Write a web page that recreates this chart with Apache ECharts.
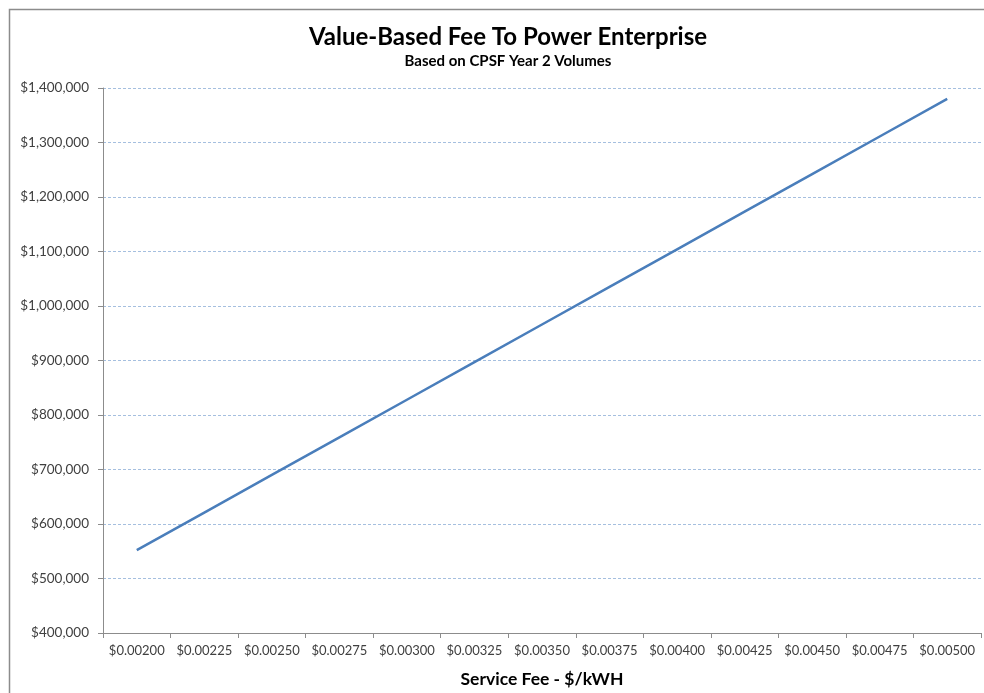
<!DOCTYPE html>
<html>
<head>
<meta charset="utf-8">
<script src="https://cdn.jsdelivr.net/npm/echarts@6/dist/echarts.min.js"></script>
<style>
html,body{margin:0;padding:0;background:#fff;overflow:hidden;}
#c{width:984px;height:693px;}
</style>
</head>
<body>
<div id="c"></div>
<script>
var categories = ['$0.00200','$0.00225','$0.00250','$0.00275','$0.00300','$0.00325','$0.00350','$0.00375','$0.00400','$0.00425','$0.00450','$0.00475','$0.00500'];
var feeValues = [552000, 621000, 690000, 759000, 828000, 897000, 966000, 1035000, 1104000, 1173000, 1242000, 1311000, 1380000];
var yTicks = {min: 400000, max: 1400000, interval: 100000};

var chart = echarts.init(document.getElementById('c'), null, {renderer: 'canvas', width: 984, height: 693});
var fontFam = 'Lato, "Open Sans", "Liberation Sans", sans-serif';
chart.setOption({
  animation: false,
  backgroundColor: '#fff',
  graphic: [{
    type: 'rect', left: 7, top: 7,
    shape: {x: 0, y: 0, width: 1000, height: 720},
    style: {fill: 'none', stroke: '#8c8c8c', lineWidth: 1.5},
    silent: true
  }],
  title: {
    text: 'Value-Based Fee To Power Enterprise',
    subtext: 'Based on CPSF Year 2 Volumes',
    left: 503, textAlign: 'center', top: 20, itemGap: 5,
    textStyle: {fontFamily: fontFam, fontWeight: 'bold', fontSize: 24, color: '#000'},
    subtextStyle: {fontFamily: fontFam, fontWeight: 'bold', fontSize: 15, color: '#000'}
  },
  grid: {left: 103, right: 3, top: 88, height: 554, containLabel: false},
  xAxis: {
    type: 'category',
    data: categories,
    boundaryGap: true,
    name: 'Service Fee - $/kWH',
    nameLocation: 'middle',
    nameGap: 37,
    nameTextStyle: {fontFamily: fontFam, fontWeight: 'bold', fontSize: 17.5, color: '#000'},
    axisLine: {lineStyle: {color: '#8c8c8c', width: 1}},
    axisTick: {show: true, alignWithLabel: false, length: 5, lineStyle: {color: '#8c8c8c'}},
    axisLabel: {interval: 0, fontFamily: fontFam, fontSize: 13, color: '#404040', margin: 11},
    splitLine: {show: false}
  },
  yAxis: {
    type: 'value',
    min: yTicks.min, max: yTicks.max, interval: yTicks.interval,
    axisLine: {show: true, lineStyle: {color: '#8c8c8c', width: 1}},
    axisTick: {show: true, length: 5, lineStyle: {color: '#8c8c8c'}},
    axisLabel: {
      fontFamily: fontFam, fontSize: 13.5, color: '#404040', margin: 14,
      formatter: function (v) { return '$' + v.toLocaleString('en-US'); }
    },
    splitLine: {show: true, lineStyle: {color: '#a5bfdf', type: [3, 2], width: 1}}
  },
  series: [{
    type: 'line',
    data: feeValues,
    showSymbol: false,
    symbol: 'none',
    lineStyle: {color: '#4a7ebb', width: 2.5},
    itemStyle: {color: '#4a7ebb'}
  }]
});
</script>
</body>
</html>
